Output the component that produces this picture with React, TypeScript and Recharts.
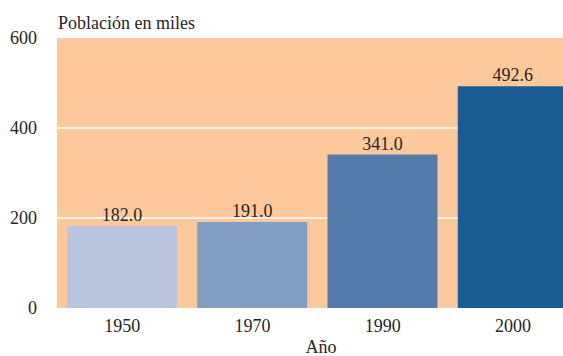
import { BarChart, Bar, XAxis, YAxis, CartesianGrid, Cell, LabelList } from "recharts";

const years = ["1950", "1970", "1990", "2000"];
const population = [182.0, 191.0, 341.0, 492.6];
const barColors = ["#b9c5de", "#839ec4", "#547aaa", "#1c5c94"];
const yTicks = [0, 200, 400, 600];

const data = years.map((year, i) => ({ year, value: population[i] }));

const font = "'Liberation Serif', 'Times New Roman', serif";
const textColor = "#262626";
const textStyle = { fontFamily: font, fontSize: 18, fill: textColor };

function BarValue(props: any) {
  const { x, y, width, value } = props;
  return (
    <text x={Number(x) + Number(width) / 2} y={Number(y) - 5} textAnchor="middle" style={textStyle}>
      {Number(value).toFixed(1)}
    </text>
  );
}

export default function App() {
  return (
    <div
      style={{
        position: "fixed",
        left: 0,
        top: 0,
        width: 563,
        height: 356,
        overflow: "hidden",
        background: "#fff",
        fontFamily: font,
      }}
    >
      <BarChart
        width={563}
        height={356}
        data={data}
        // last bar runs past the right edge in the original
        margin={{ top: 38, right: -15, bottom: 0, left: 0 }}
        barCategoryGap={10}
        style={{ fontFamily: font }}
      >
        <CartesianGrid
          vertical={false}
          fill="#fdc89b"
          stroke="#ffffff"
          strokeWidth={1.5}
          horizontalValues={[200, 400]}
        />
        <XAxis
          dataKey="year"
          height={48}
          tickLine={false}
          axisLine={false}
          tickSize={0}
          tickMargin={11}
          tick={{ fill: textColor, fontSize: 18, fontFamily: font }}
          label={{
            content: () => (
              <text x={321} y={353} textAnchor="middle" style={textStyle}>
                Año
              </text>
            ),
          }}
        />
        <YAxis
          width={57}
          domain={[0, 600]}
          ticks={yTicks}
          tickLine={false}
          axisLine={false}
          tickSize={0}
          tickMargin={20}
          tick={{ fill: textColor, fontSize: 18, fontFamily: font }}
          label={{
            content: () => (
              <text x={58} y={29} style={textStyle}>
                Población en miles
              </text>
            ),
          }}
        />
        <Bar dataKey="value" isAnimationActive={false}>
          {data.map((d, i) => (
            <Cell key={d.year} fill={barColors[i]} />
          ))}
          <LabelList dataKey="value" content={BarValue} />
        </Bar>
      </BarChart>
    </div>
  );
}
